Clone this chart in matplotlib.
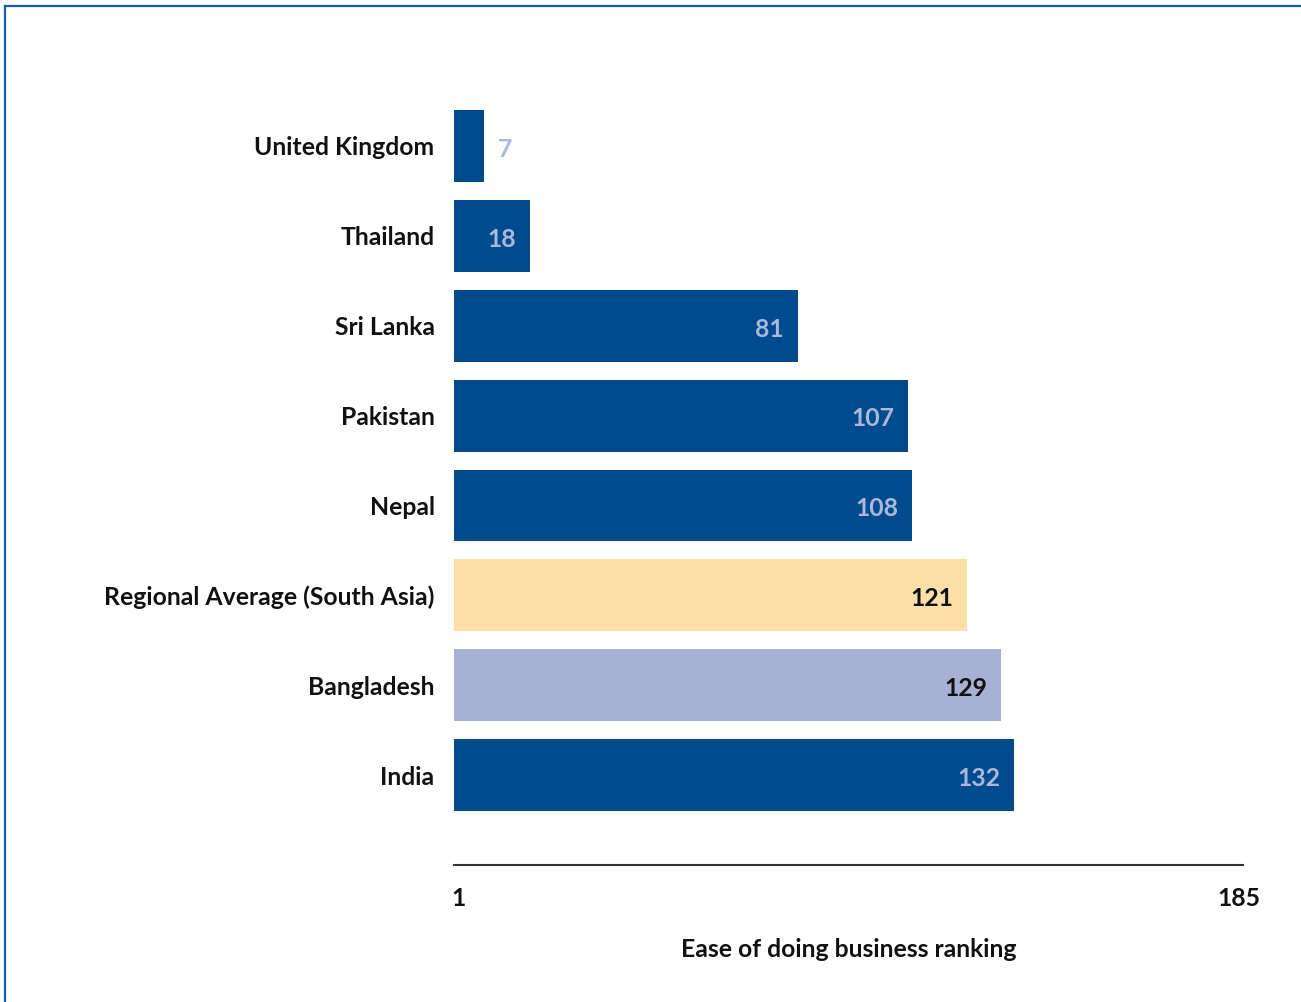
import matplotlib.pyplot as plt
from matplotlib.lines import Line2D

# data
countries = ['United Kingdom', 'Thailand', 'Sri Lanka', 'Pakistan', 'Nepal',
             'Regional Average (South Asia)', 'Bangladesh', 'India']
ranks = [7, 18, 81, 107, 108, 121, 129, 132]
bar_colors = ['#004b8d', '#004b8d', '#004b8d', '#004b8d', '#004b8d',
              '#fddfa8', '#a6b1d3', '#004b8d']
label_colors = ['#a9b8db', '#a9b8db', '#a9b8db', '#a9b8db', '#a9b8db',
                '#111111', '#111111', '#a9b8db']
tick_vals = [1, 185]

plt.rcParams['font.family'] = ['Lato', 'DejaVu Sans']
plt.rcParams['font.weight'] = 'bold'
FS = 17.8

W, H = 1301, 1002
fig = plt.figure(figsize=(W / 100, H / 100), dpi=100)
ax = fig.add_axes([454 / W, 1 - 865 / H, (1243 - 454) / W, (865 - 110) / H])

y = list(range(len(countries)))
ax.barh(y, ranks, height=0.8, color=bar_colors)
ax.set_xlim(0, 186)
ax.set_ylim(8.0, -0.4)

for yi, v, c in zip(y, ranks, label_colors):
    if v < 10:
        ax.annotate(str(v), (v, yi), xytext=(10, -1), textcoords='offset points',
                    ha='left', va='center_baseline', color=c, fontsize=FS, fontweight='bold')
    else:
        ax.annotate(str(v), (v, yi), xytext=(-10, -1), textcoords='offset points',
                    ha='right', va='center_baseline', color=c, fontsize=FS, fontweight='bold')

ax.set_yticks(y)
ax.set_yticklabels(countries, fontsize=FS, fontweight='bold', color='#111111')
ax.set_xticks(tick_vals)
ax.set_xticklabels([str(t) for t in tick_vals], fontsize=FS, fontweight='bold', color='#111111')
ax.tick_params(axis='both', length=0)
ax.tick_params(axis='y', pad=14)
ax.tick_params(axis='x', pad=16)
ax.set_xlabel('Ease of doing business ranking', fontsize=FS, fontweight='bold',
              color='#111111', labelpad=20)

for s in ['top', 'right', 'left']:
    ax.spines[s].set_visible(False)
ax.spines['bottom'].set_color('#333333')
ax.spines['bottom'].set_linewidth(1.5)

# frame of the screenshot (top and left only)
fig.add_artist(Line2D([5 / W, 1], [1 - 6 / H, 1 - 6 / H], color='#1e5ba6', lw=1.6,
                      transform=fig.transFigure))
fig.add_artist(Line2D([5 / W, 5 / W], [0, 1 - 6 / H], color='#1e5ba6', lw=1.6,
                      transform=fig.transFigure))

fig.savefig('out.png', dpi=100)
